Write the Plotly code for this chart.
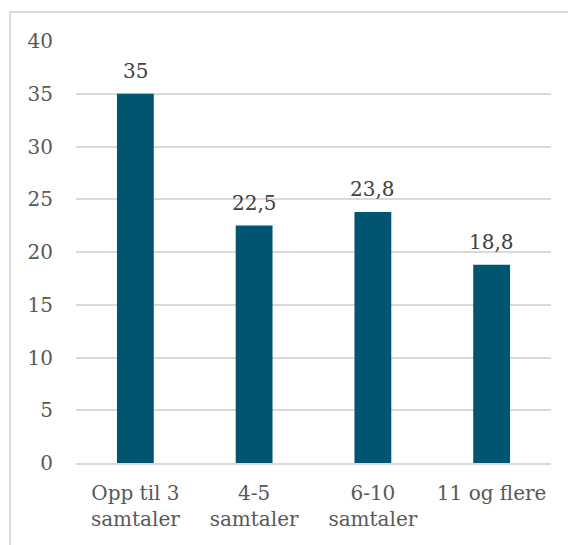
import plotly.graph_objects as go

categories = ["Opp til 3<br>samtaler", "4-5<br>samtaler", "6-10<br>samtaler", "11 og flere"]
values = [35, 22.5, 23.8, 18.8]
y_ticks = [0, 5, 10, 15, 20, 25, 30, 35, 40]

FONT = "DejaVu Serif"
SIZE = 20
BAR = "#005670"
GRID = "#d9d9d9"
TICK = "#595959"
LABEL = "#404040"

fig = go.Figure(
    go.Bar(
        x=categories,
        y=values,
        marker=dict(color=BAR, line=dict(width=0)),
        hoverinfo="skip",
    )
)

for c, v in zip(categories, values):
    fig.add_annotation(
        x=c, y=v, text=f"{v:g}".replace(".", ","),
        showarrow=False, yanchor="bottom", yshift=9,
        font=dict(family=FONT, size=SIZE, color=LABEL),
    )

# outer chart frame
fig.add_shape(
    type="rect", xref="paper", yref="paper",
    x0=-0.1387, x1=1.2, y0=-0.3, y1=1.069,
    line=dict(color=GRID, width=2), layer="below",
)

fig.update_layout(
    width=568, height=545,
    margin=dict(l=76, r=17, t=41, b=82),
    paper_bgcolor="white", plot_bgcolor="white",
    bargap=0.69,
    showlegend=False,
    font=dict(family=FONT, size=SIZE, color=TICK),
)
fig.update_yaxes(
    range=[0, 40], tickvals=y_ticks,
    showgrid=True, gridcolor=GRID, gridwidth=1.5,
    zeroline=False, showline=False, ticks="",
    ticklabelstandoff=22,
    tickfont=dict(family=FONT, size=SIZE, color=TICK),
)
fig.update_xaxes(
    showline=True, linecolor=GRID, linewidth=1.5,
    ticks="", ticklabelstandoff=11,
    tickfont=dict(family=FONT, size=SIZE, color=TICK),
)

fig.write_html("out.html")
